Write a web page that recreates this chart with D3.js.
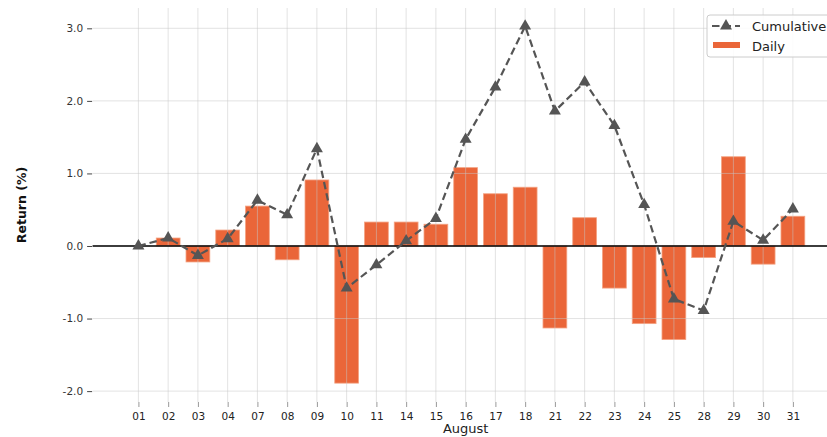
<!DOCTYPE html>
<html>
<head>
<meta charset="utf-8">
<script src="https://cdn.jsdelivr.net/npm/d3@7"></script>
<style>
  html, body { margin: 0; padding: 0; background: #fff; }
  svg { display: block; font-family: "DejaVu Sans", sans-serif; }
</style>
</head>
<body>
<svg id="chart" width="827" height="437"></svg>
<script>
// ---- data ----
const days = ["01","02","03","04","07","08","09","10","11","14","15","16","17","18","21","22","23","24","25","28","29","30","31"];
const daily = [0.00,0.11,-0.22,0.22,0.55,-0.19,0.91,-1.89,0.33,0.33,0.30,1.08,0.72,0.81,-1.13,0.39,-0.58,-1.07,-1.29,-0.16,1.23,-0.25,0.41];
const cumulative = [0.00,0.11,-0.13,0.10,0.63,0.43,1.34,-0.58,-0.26,0.07,0.38,1.47,2.19,3.03,1.86,2.26,1.66,0.57,-0.73,-0.89,0.34,0.08,0.51];
const yTicks = [-2,-1,0,1,2,3];
const seriesNames = ["Cumulative","Daily"];
const xLabel = "August";
const yLabel = "Return (%)";

// ---- layout ----
const mLeft = 92.6, mRight = 838.7, mTop = 8, mBottom = 402;
const barColor = "#ea6639";
const lineColor = "#555555";

const svg = d3.select("#chart");

const x = d3.scalePoint().domain(days).range([mLeft, mRight]).padding(1.54);
const barW = x.step() * 0.8;
const y = d3.scaleLinear().domain([-2.15, 3.28]).range([mBottom, mTop]);

// bars
svg.append("g").selectAll("rect").data(days).join("rect")
  .attr("x", d => x(d) - barW / 2)
  .attr("width", barW)
  .attr("y", (d, i) => y(Math.max(0, daily[i])))
  .attr("height", (d, i) => Math.abs(y(daily[i]) - y(0)))
  .attr("fill", barColor)
  .attr("stroke", "#f4a383")
  .attr("stroke-width", 0.8);

// gridlines (drawn over bars, semi-transparent)
const grid = svg.append("g").attr("stroke", "#c8c8c8").attr("stroke-opacity", 0.5).attr("stroke-width", 1);
grid.selectAll("line.h").data(yTicks).join("line").attr("class", "h")
  .attr("x1", mLeft).attr("x2", mRight)
  .attr("y1", d => y(d)).attr("y2", d => y(d));
grid.selectAll("line.v").data(days).join("line").attr("class", "v")
  .attr("x1", d => x(d)).attr("x2", d => x(d))
  .attr("y1", mTop).attr("y2", mBottom);

// zero line
svg.append("line")
  .attr("x1", mLeft).attr("x2", mRight)
  .attr("y1", y(0)).attr("y2", y(0))
  .attr("stroke", "#000").attr("stroke-width", 1.5);

// cumulative line
const line = d3.line().x((d, i) => x(days[i])).y(d => y(d));
svg.append("path").datum(cumulative)
  .attr("d", line)
  .attr("fill", "none")
  .attr("stroke", lineColor)
  .attr("stroke-width", 2.2)
  .attr("stroke-dasharray", "7.5,4");

const tri = d3.symbol().type(d3.symbolTriangle).size(62);
svg.append("g").selectAll("path").data(cumulative).join("path")
  .attr("d", tri)
  .attr("transform", (d, i) => `translate(${x(days[i])},${y(d)})`)
  .attr("fill", lineColor);

// y axis
const yAxis = d3.axisLeft(y).tickValues(yTicks).tickFormat(d => d3.format(".1f")(d).replace("\u2212", "-")).tickSize(5).tickPadding(4);
const gy = svg.append("g").attr("transform", `translate(${mLeft - 0.5},0)`).call(yAxis);
gy.select(".domain").remove();
gy.selectAll(".tick line").attr("stroke", "#444").attr("stroke-width", 1);
gy.selectAll(".tick text").attr("fill", "#333").style("font-size", "10.5px")
  .style("font-family", "DejaVu Sans, sans-serif");

// x axis
const xAxis = d3.axisBottom(x).tickSize(5).tickPadding(6);
const gx = svg.append("g").attr("transform", `translate(0,${mBottom})`).call(xAxis);
gx.select(".domain").remove();
gx.selectAll(".tick line").attr("stroke", "#999").attr("stroke-width", 1);
gx.selectAll(".tick text").attr("fill", "#222").style("font-size", "10.5px")
  .style("font-family", "DejaVu Sans, sans-serif");

// axis labels
svg.append("text")
  .attr("x", (mLeft + mRight) / 2).attr("y", 433)
  .attr("text-anchor", "middle")
  .style("font-size", "13px").attr("fill", "#222")
  .text(xLabel);

svg.append("text")
  .attr("transform", `translate(26,${(mTop + mBottom) / 2}) rotate(-90)`)
  .attr("text-anchor", "middle")
  .style("font-size", "12.5px").style("font-weight", "bold").attr("fill", "#111")
  .text(yLabel);

// legend
const lg = svg.append("g").attr("transform", "translate(707,15)");
lg.append("rect").attr("x", 0).attr("y", 0).attr("width", 135).attr("height", 42).attr("rx", 3)
  .attr("fill", "#fff").attr("fill-opacity", 0.85).attr("stroke", "#cccccc");
lg.append("line").attr("x1", 5).attr("x2", 33).attr("y1", 11).attr("y2", 11)
  .attr("stroke", lineColor).attr("stroke-width", 2.2).attr("stroke-dasharray", "7.5,4");
lg.append("path").attr("d", tri).attr("transform", "translate(19,11)").attr("fill", lineColor);
lg.append("rect").attr("x", 6).attr("y", 27).attr("width", 27).attr("height", 6).attr("fill", barColor);
lg.selectAll("text").data(seriesNames).join("text")
  .attr("x", 45).attr("y", (d, i) => 16 + i * 20)
  .style("font-size", "13px").attr("fill", "#222")
  .text(d => d);
</script>
</body>
</html>
